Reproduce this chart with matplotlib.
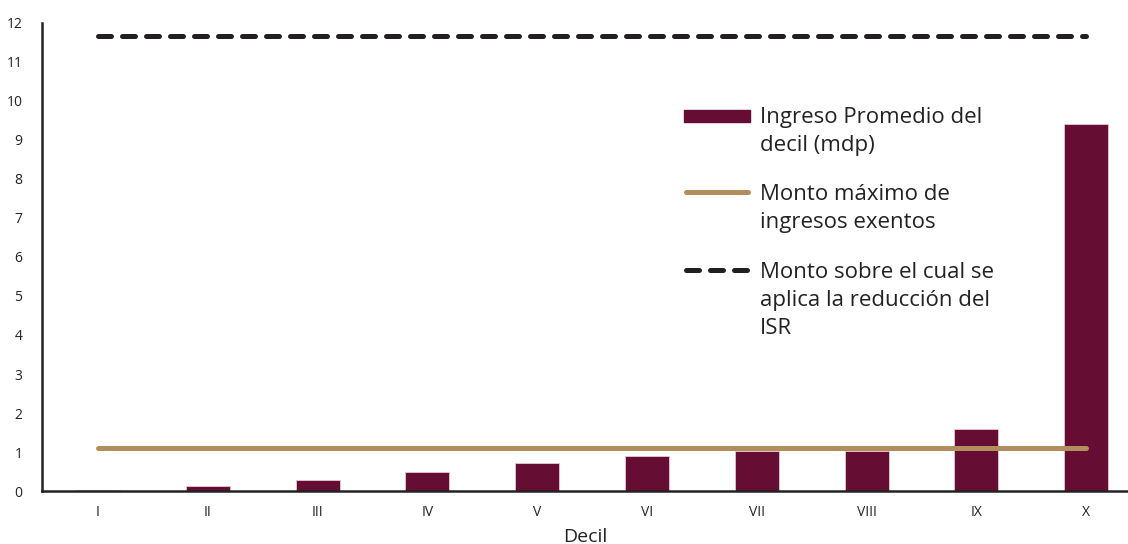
import numpy as np
import matplotlib
matplotlib.use('Agg')
import matplotlib.pyplot as plt
from matplotlib.patches import Rectangle

plt.rcParams['font.family'] = ['Open Sans', 'DejaVu Sans']

deciles = ['I', 'II', 'III', 'IV', 'V', 'VI', 'VII', 'VIII', 'IX', 'X']
ingreso = [0.03, 0.12, 0.27, 0.49, 0.72, 0.91, 1.03, 1.03, 1.58, 9.41]
monto_exento = 1.10
monto_reduccion = 11.67

labels = ['Ingreso Promedio del\ndecil (mdp)',
          'Monto máximo de\ningresos exentos',
          'Monto sobre el cual se\naplica la reducción del\nISR']

bar_color = '#650d33'
gold = '#b38e5d'
dark = '#231f20'
txt = '#222222'

fig = plt.figure(figsize=(11.28, 5.44), dpi=100)
ax = fig.add_axes([0.0372, 0.0974, 0.9628, 0.8604])

x = np.arange(len(deciles))
ax.bar(x, ingreso, 0.4, color=bar_color, edgecolor='#e8c8d0', linewidth=0.6, zorder=2)
ax.plot([x[0], x[-1]], [monto_exento, monto_exento], color=gold, lw=3.6,
        solid_capstyle='round', zorder=3)
ax.plot([x[0], x[-1]], [monto_reduccion, monto_reduccion], color=dark, lw=3.6,
        dashes=(2.6, 2.2), dash_capstyle='round', zorder=3)

ax.set_xlim(-0.51, 9.38)
ax.set_ylim(0, 12)
ax.set_yticks(range(0, 13))
ax.set_xticks(x)
ax.set_xticklabels(deciles)
ax.tick_params(length=0, labelsize=10, colors=txt, pad=10)
ax.tick_params(axis='y', pad=14)
for s in ['top', 'right']:
    ax.spines[s].set_visible(False)
for s in ['left', 'bottom']:
    ax.spines[s].set_linewidth(1.8)
    ax.spines[s].set_color(txt)
ax.set_xlabel('Decil', fontsize=14, color=txt, labelpad=6)

# legend drawn by hand so each key sits on the first line of its label
hx0, hx1, tx = 0.591, 0.652, 0.661
centers = [0.801, 0.639, 0.472]
tops = [0.820, 0.657, 0.490]
ax.add_patch(Rectangle((hx0, centers[0] - 0.012), hx1 - hx0, 0.024,
                       transform=ax.transAxes, color=bar_color, clip_on=False))
ax.plot([hx0 + 0.002, hx1 - 0.002], [centers[1]] * 2, transform=ax.transAxes,
        color=gold, lw=3.6, solid_capstyle='round', clip_on=False)
ax.plot([hx0 + 0.002, hx1], [centers[2]] * 2, transform=ax.transAxes,
        color=dark, lw=3.6, dashes=(2.6, 2.2), dash_capstyle='round', clip_on=False)
for lab, top in zip(labels, tops):
    ax.text(tx, top, lab, transform=ax.transAxes, fontsize=16, color=txt,
            va='top', ha='left', linespacing=1.45)

plt.savefig('out.png', dpi=100)
